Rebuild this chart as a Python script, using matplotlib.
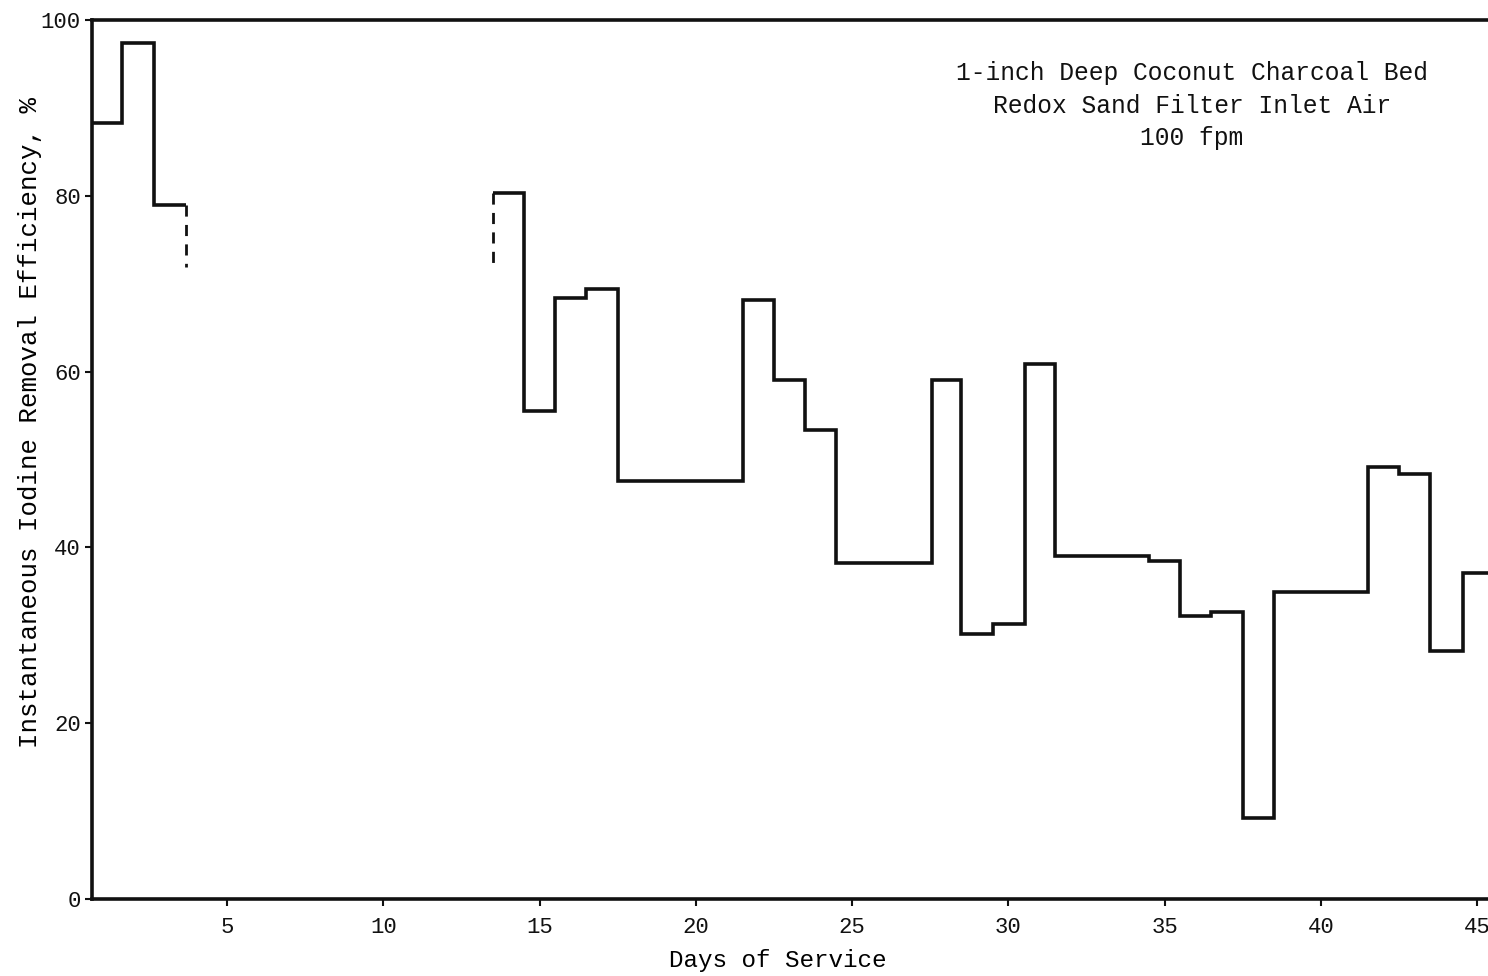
import matplotlib
matplotlib.use('Agg')
import matplotlib.pyplot as plt

plt.rcParams['font.family'] = ['Liberation Mono', 'DejaVu Sans Mono']

# first run of readings (days 1-3)
edges_a = [0.68, 1.65, 2.65, 3.7]
eff_a = [88.3, 97.4, 79.0]

# second run of readings (day 14 onward)
edges_b = [13.5, 14.5, 15.5, 16.5, 17.5, 21.5, 22.5, 23.5, 24.5, 27.55, 28.5,
           29.5, 30.55, 31.5, 34.5, 35.5, 36.5, 37.5, 38.5, 41.5, 42.5, 43.5,
           44.55, 45.5]
eff_b = [80.3, 55.5, 68.4, 69.4, 47.6, 68.1, 59.0, 53.3, 38.2, 59.0, 30.2,
         31.3, 60.9, 39.0, 38.5, 32.2, 32.7, 9.2, 34.9, 49.1, 48.3, 28.2, 37.1]

# dashed gap markers (day, top, bottom)
gap_days = [3.7, 13.5]
gap_top = [79.0, 80.3]
gap_bottom = [71.9, 72.4]

x_ticks = [5, 10, 15, 20, 25, 30, 35, 40, 45]
y_ticks = [0, 20, 40, 60, 80, 100]

note = "1-inch Deep Coconut Charcoal Bed\nRedox Sand Filter Inlet Air\n100 fpm"

fig = plt.figure(figsize=(14.88, 9.76), dpi=100)
ax = fig.add_axes([92 / 1488, 77 / 976, 1396 / 1488, 879 / 976])

lc = '#111111'
ax.stairs(eff_a, edges_a, baseline=None, color=lc, lw=2.6)
ax.stairs(eff_b, edges_b, baseline=None, color=lc, lw=2.6)
for d, t, b in zip(gap_days, gap_top, gap_bottom):
    ax.plot([d, d], [t, b], color=lc, lw=2.0, ls=(0, (4, 3)))

ax.set_xlim(0.68, 45.35)
ax.set_ylim(0, 100)
ax.set_xticks(x_ticks)
ax.set_yticks(y_ticks)
ax.tick_params(direction='out', length=5, width=1.5, labelsize=16,
               colors=lc)
ax.tick_params(axis='x', pad=8)
ax.tick_params(axis='y', pad=3)

for s in ['left', 'bottom', 'top']:
    ax.spines[s].set_linewidth(2.6)
    ax.spines[s].set_color(lc)
ax.spines['right'].set_visible(False)

ax.set_xlabel('Days of Service', fontsize=17.5)
ax.xaxis.set_label_coords(0.491, -0.057)
ax.set_ylabel('Instantaneous Iodine Removal Efficiency, %', fontsize=18.5)
ax.yaxis.set_label_coords(-0.036, 0.542)

fig.text(1192 / 1488, 1 - 61 / 976, note, ha='center', va='top',
         multialignment='center', fontsize=17.7, linespacing=1.45, color=lc)

fig.savefig('out.png', dpi=100)
